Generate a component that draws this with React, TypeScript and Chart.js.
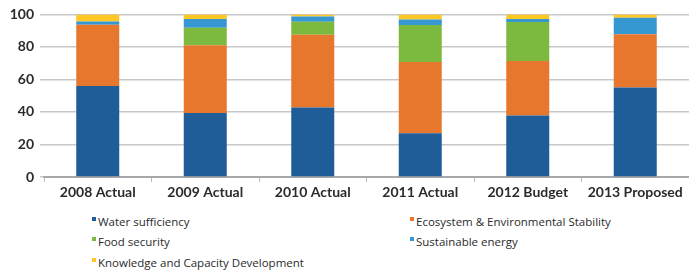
import React, { useEffect, useRef } from "react";
import { Chart, registerables } from "chart.js";

Chart.register(...registerables);

const categories = ["2008 Actual", "2009 Actual", "2010 Actual", "2011 Actual", "2012 Budget", "2013 Proposed"];
const waterSufficiency = [56, 39.4, 42.8, 26.9, 37.8, 55.1];
const ecosystem = [37.6, 41.6, 44.7, 43.9, 33.6, 32.7];
const foodSecurity = [0, 10.8, 8, 22.7, 23.9, 0];
const sustainableEnergy = [2, 5.3, 3.2, 3.4, 1.8, 10.1];
const knowledge = [4.4, 2.9, 1.3, 3.1, 2.9, 2.1];
const yTicks = [0, 20, 40, 60, 80, 100];

const seriesNames = [
  "Water sufficiency",
  "Ecosystem & Environmental Stability",
  "Food security",
  "Sustainable energy",
  "Knowledge and Capacity Development",
];
const seriesColors = ["#1F5D98", "#E8772E", "#7EB93F", "#3797D3", "#FDC823"];

const legendPos = [
  { left: 92, top: 214 },
  { left: 410, top: 214 },
  { left: 92, top: 234 },
  { left: 410, top: 234 },
  { left: 92, top: 255 },
];

export default function App() {
  const ref = useRef<HTMLCanvasElement | null>(null);

  useEffect(() => {
    document.body.style.margin = "0";
    const seriesData = [waterSufficiency, ecosystem, foodSecurity, sustainableEnergy, knowledge];
    const chart = new Chart(ref.current as HTMLCanvasElement, {
      type: "bar",
      data: {
        labels: categories,
        datasets: seriesNames.map((name, i) => ({
          label: name,
          data: seriesData[i],
          backgroundColor: seriesColors[i],
          borderWidth: 0,
          categoryPercentage: 0.8,
          barPercentage: 0.5,
        })),
      },
      options: {
        animation: false,
        responsive: false,
        maintainAspectRatio: false,
        layout: { padding: { top: 6, right: 0, left: 0, bottom: 0 } },
        plugins: { legend: { display: false }, tooltip: { enabled: false } },
        scales: {
          x: {
            stacked: true,
            grid: {
              offset: true,
              drawOnChartArea: false,
              drawTicks: true,
              tickLength: 5,
              color: "#BDBDBD",
              lineWidth: 1,
            },
            border: { display: true, color: "#A8A8A8", width: 2 },
            ticks: {
              color: "#2B2B2B",
              font: { family: "Lato", size: 14, weight: "bold" },
              padding: 2,
              maxRotation: 0,
              autoSkip: false,
            },
            afterFit: (scale: any) => {
              scale.height = 28;
            },
          },
          y: {
            stacked: true,
            min: 0,
            max: 100,
            afterBuildTicks: (scale: any) => {
              scale.ticks = yTicks.map((v) => ({ value: v }));
            },
            grid: {
              color: "#C8C8C8",
              lineWidth: 1.5,
              drawTicks: true,
              tickLength: 4,
            },
            border: { display: false },
            ticks: {
              color: "#2B2B2B",
              font: { family: "Lato", size: 14, weight: "bold" },
              padding: 6,
            },
            afterFit: (scale: any) => {
              scale.width = 44;
            },
          },
        },
      },
    });
    return () => chart.destroy();
  }, []);

  return (
    <div style={{ position: "relative", width: 689, height: 272, background: "#fff" }}>
      <canvas ref={ref} width={689} height={205} style={{ display: "block", width: 689, height: 205 }} />
      {seriesNames.map((name, i) => (
        <div
          key={name}
          style={{
            position: "absolute",
            left: legendPos[i].left,
            top: legendPos[i].top,
            display: "flex",
            alignItems: "center",
            fontFamily: "'Open Sans', sans-serif",
            fontSize: 11.5,
            color: "#2B2B2B",
            lineHeight: "16px",
            whiteSpace: "nowrap",
          }}
        >
          <span
            style={{
              display: "inline-block",
              width: 4,
              height: 4,
              background: seriesColors[i],
              marginRight: 2,
              marginTop: -6,
            }}
          />
          {name}
        </div>
      ))}
    </div>
  );
}
